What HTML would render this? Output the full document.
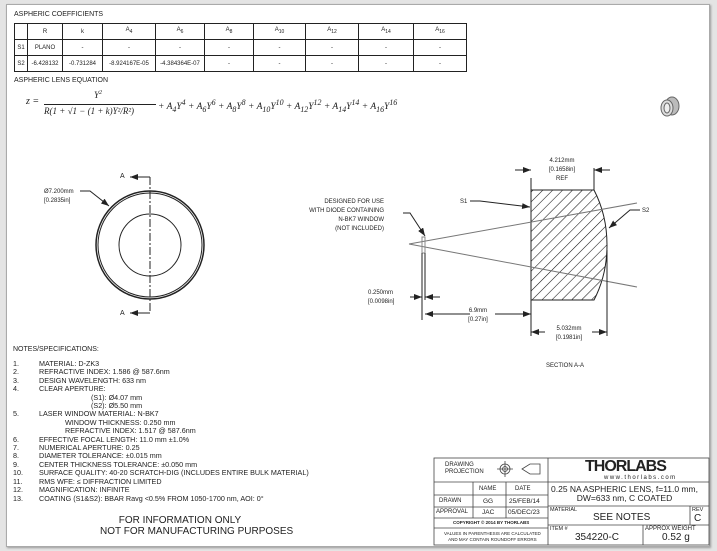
<!DOCTYPE html>
<html><head><meta charset="utf-8"><style>
body{margin:0;width:717px;height:551px;background:#e4e4e4;position:relative;overflow:hidden;font-family:"Liberation Sans",sans-serif;color:#222}
#pg{position:absolute;left:6px;top:4px;width:702px;height:541px;background:#fff;border:1px solid #aaa;box-shadow:1px 1px 2px #999}
.t{position:absolute;font-size:7px;white-space:nowrap}
table{position:absolute;left:14px;top:23px;border-collapse:collapse;font-size:6px}
td{border:1px solid #222;height:15px;text-align:center;padding:0}
</style></head><body>
<div id="pg"></div>
<div class="t" style="left:14px;top:11px">ASPHERIC COEFFICIENTS</div>
<table>
<tr><td style="width:12px"></td><td style="width:34px">R</td><td style="width:39px">k</td><td style="width:52px">A<sub>4</sub></td><td style="width:48px">A<sub>6</sub></td><td style="width:48px">A<sub>8</sub></td><td style="width:51px">A<sub>10</sub></td><td style="width:52px">A<sub>12</sub></td><td style="width:54px">A<sub>14</sub></td><td style="width:52px">A<sub>16</sub></td></tr>
<tr><td>S1</td><td>PLANO</td><td>-</td><td>-</td><td>-</td><td>-</td><td>-</td><td>-</td><td>-</td><td>-</td></tr>
<tr><td>S2</td><td>-6.428132</td><td>-0.731284</td><td>-8.924167E-05</td><td>-4.384364E-07</td><td>-</td><td>-</td><td>-</td><td>-</td><td>-</td></tr>
</table>
<div class="t" style="left:14px;top:77px">ASPHERIC LENS EQUATION</div>
<div class="t" style="left:26px;top:96px;font-family:'Liberation Serif',serif;font-size:10px;font-style:italic">z =</div>
<div class="t" style="left:94px;top:90px;font-family:'Liberation Serif',serif;font-size:9px;font-style:italic">Y<sup style="font-size:6px">2</sup></div>
<div style="position:absolute;left:44px;top:104px;width:112px;border-top:1px solid #222"></div>
<div class="t" style="left:44px;top:106px;font-family:'Liberation Serif',serif;font-size:9px;font-style:italic">R(1 + √1 − (1 + k)Y²/R²)</div>
<div class="t" style="left:158px;top:98px;font-family:'Liberation Serif',serif;font-size:9.5px;font-style:italic">+ A<sub>4</sub>Y<sup>4</sup> + A<sub>6</sub>Y<sup>6</sup> + A<sub>8</sub>Y<sup>8</sup> + A<sub>10</sub>Y<sup>10</sup> + A<sub>12</sub>Y<sup>12</sup> + A<sub>14</sub>Y<sup>14</sup> + A<sub>16</sub>Y<sup>16</sup></div>
<svg width="717" height="551" style="position:absolute;left:0;top:0" font-family="Liberation Sans" font-size="6">
<defs><marker id="ar" markerWidth="8" markerHeight="6" refX="8" refY="3" orient="auto" markerUnits="userSpaceOnUse"><path d="M0,0L8,3L0,6z" fill="#222"/></marker>
<pattern id="h" width="7" height="7" patternUnits="userSpaceOnUse" patternTransform="rotate(45)"><line x1="0" y1="0" x2="0" y2="7" stroke="#111" stroke-width="1.1"/></pattern></defs>
<g stroke="#666"><ellipse cx="672" cy="106" rx="7" ry="9" fill="#bbb"/><ellipse cx="667" cy="108" rx="6" ry="8" fill="#ddd"/><ellipse cx="667" cy="108" rx="3" ry="5" fill="#eee"/></g>
<g stroke="#222" fill="none">
<circle cx="150" cy="245" r="54" stroke-width="1.5"/><circle cx="150" cy="245" r="52"/><circle cx="150" cy="245" r="31"/>
<line x1="150" y1="177" x2="150" y2="313" stroke-dasharray="8,2,2,2"/>
<path d="M150 177H130" marker-end="url(#ar)"/><path d="M150 313H130" marker-end="url(#ar)"/>
<path d="M80 191H90L109 206" marker-end="url(#ar)"/>
<path d="M531 190H594Q607 215 607 245Q607 275 594 300H531Z" fill="url(#h)"/>
<line x1="531" y1="190" x2="531" y2="178"/><line x1="594" y1="190" x2="594" y2="168"/>
<path d="M515 170H531" marker-end="url(#ar)"/><path d="M610 170H594" marker-end="url(#ar)"/>
<g stroke="#777"><line x1="409" y1="244" x2="637" y2="203"/><line x1="409" y1="244" x2="637" y2="287"/></g>
<rect x="422" y="237" width="3" height="16" stroke="#888"/>
<line x1="422" y1="253" x2="422" y2="320"/><line x1="425" y1="253" x2="425" y2="300"/>
<path d="M410 297H422" marker-end="url(#ar)"/><path d="M440 297H425" marker-end="url(#ar)"/>
<path d="M403 213H410L425 236" marker-end="url(#ar)"/>
<path d="M470 201H480L530 207" marker-end="url(#ar)"/>
<path d="M640 210H630L609 228" marker-end="url(#ar)"/>
<line x1="531" y1="300" x2="531" y2="336"/><line x1="607" y1="250" x2="607" y2="336"/>
<path d="M470 314H425" marker-end="url(#ar)"/><path d="M495 314H531" marker-end="url(#ar)"/>
<path d="M545 332H531" marker-end="url(#ar)"/><path d="M592 332H607" marker-end="url(#ar)"/>
</g>
<g fill="#222">
<text x="120" y="178" font-size="7">A</text><text x="120" y="315" font-size="7">A</text>
<text x="44" y="193">Ø7.200mm</text><text x="44" y="202">[0.2835in]</text>
<text x="562" y="162" text-anchor="middle">4.212mm</text><text x="562" y="171" text-anchor="middle">[0.1658in]</text><text x="562" y="180" text-anchor="middle">REF</text>
<text x="384" y="203" text-anchor="end">DESIGNED FOR USE</text><text x="384" y="212" text-anchor="end">WITH DIODE CONTAINING</text><text x="384" y="221" text-anchor="end">N-BK7 WINDOW</text><text x="384" y="230" text-anchor="end">(NOT INCLUDED)</text>
<text x="460" y="203">S1</text><text x="642" y="212">S2</text>
<text x="368" y="294">0.250mm</text><text x="368" y="303">[0.0098in]</text>
<text x="478" y="312" text-anchor="middle">6.9mm</text><text x="478" y="321" text-anchor="middle">[0.27in]</text>
<text x="569" y="330" text-anchor="middle">5.032mm</text><text x="569" y="339" text-anchor="middle">[0.1981in]</text>
<text x="565" y="367" text-anchor="middle">SECTION A-A</text>
</g>
<g stroke="#444" fill="none" stroke-width="0.8">
<rect x="434" y="458" width="275" height="87"/><line x1="548" y1="458" x2="548" y2="545"/>
<line x1="434" y1="482" x2="548" y2="482"/><line x1="434" y1="495" x2="548" y2="495"/><line x1="434" y1="507" x2="548" y2="507"/><line x1="434" y1="518" x2="548" y2="518"/><line x1="434" y1="528" x2="548" y2="528"/>
<line x1="473" y1="482" x2="473" y2="518"/><line x1="506" y1="482" x2="506" y2="518"/>
<line x1="548" y1="482" x2="709" y2="482"/><line x1="548" y1="506" x2="709" y2="506"/><line x1="548" y1="525" x2="709" y2="525"/>
<line x1="690" y1="506" x2="690" y2="525"/><line x1="643" y1="525" x2="643" y2="545"/>
<circle cx="505" cy="469" r="5"/><circle cx="505" cy="469" r="2.5"/><path d="M497 469H513M505 461V477M522 469L530 464H540V474H530Z"/>
</g>
</svg>
<div class="t" style="left:445px;top:462px;font-size:6px;line-height:7px">DRAWING<br>PROJECTION</div>
<div class="t" style="left:479px;top:486px;font-size:6px">NAME</div><div class="t" style="left:515px;top:486px;font-size:6px">DATE</div>
<div class="t" style="left:439px;top:498px;font-size:6px">DRAWN</div><div class="t" style="left:483px;top:498px;font-size:6.5px">GG</div><div class="t" style="left:509px;top:498px;font-size:6.5px">25/FEB/14</div>
<div class="t" style="left:436px;top:509px;font-size:6px">APPROVAL</div><div class="t" style="left:482px;top:509px;font-size:6.5px">JAC</div><div class="t" style="left:508px;top:509px;font-size:6.5px">05/DEC/23</div>
<div class="t" style="left:453px;top:520px;font-size:4.5px;font-weight:bold">COPYRIGHT © 2014 BY THORLABS</div>
<div class="t" style="left:444px;top:531px;font-size:4.5px;text-align:center;line-height:6px">VALUES IN PARENTHESIS ARE CALCULATED<br>AND MAY CONTAIN ROUNDOFF ERRORS</div>
<div class="t" style="left:585px;top:458px;font-size:16px;font-weight:bold;letter-spacing:-1px">THORLABS</div>
<div class="t" style="left:604px;top:475px;font-size:6px;letter-spacing:1.5px">www.thorlabs.com</div>
<div class="t" style="left:551px;top:485px;font-size:8.5px;text-align:center;line-height:9px">0.25 NA ASPHERIC LENS, f=11.0 mm,<br>DW=633 nm, C COATED</div>
<div class="t" style="left:550px;top:507px;font-size:5.5px">MATERIAL</div><div class="t" style="left:593px;top:512px;font-size:10px">SEE NOTES</div>
<div class="t" style="left:692px;top:507px;font-size:5.5px">REV</div><div class="t" style="left:694px;top:513px;font-size:10px">C</div>
<div class="t" style="left:550px;top:526px;font-size:5.5px">ITEM #</div><div class="t" style="left:575px;top:532px;font-size:10px">354220-C</div>
<div class="t" style="left:645px;top:526px;font-size:6px">APPROX WEIGHT</div><div class="t" style="left:662px;top:532px;font-size:10px">0.52 g</div>
<div class="t" style="left:13px;top:346px;font-size:7px">NOTES/SPECIFICATIONS:</div>
<div class="t" style="left:13px;top:360px;font-size:7.2px;line-height:8.4px">1.<br>2.<br>3.<br>4.<br><br><br>5.<br><br><br>6.<br>7.<br>8.<br>9.<br>10.<br>11.<br>12.<br>13.</div>
<div class="t" style="left:39px;top:360px;font-size:7.2px;line-height:8.4px">MATERIAL: D-ZK3<br>REFRACTIVE INDEX: 1.586 @ 587.6nm<br>DESIGN WAVELENGTH: 633 nm<br>CLEAR APERTURE:<br><span style="padding-left:52px">(S1): Ø4.07 mm</span><br><span style="padding-left:52px">(S2): Ø5.50 mm</span><br>LASER WINDOW MATERIAL: N-BK7<br><span style="padding-left:26px">WINDOW THICKNESS: 0.250 mm</span><br><span style="padding-left:26px">REFRACTIVE INDEX: 1.517 @ 587.6nm</span><br>EFFECTIVE FOCAL LENGTH: 11.0 mm ±1.0%<br>NUMERICAL APERTURE: 0.25<br>DIAMETER TOLERANCE: ±0.015 mm<br>CENTER THICKNESS TOLERANCE: ±0.050 mm<br>SURFACE QUALITY: 40-20 SCRATCH-DIG (INCLUDES ENTIRE BULK MATERIAL)<br>RMS WFE: ≤ DIFFRACTION LIMITED<br>MAGNIFICATION: INFINITE<br>COATING (S1&amp;S2): BBAR Ravg &lt;0.5% FROM 1050-1700 nm, AOI: 0°</div>
<div class="t" style="left:100px;top:515px;font-size:10px;text-align:center;line-height:11px;width:160px">FOR INFORMATION ONLY<br>NOT FOR MANUFACTURING PURPOSES</div>
</body></html>
